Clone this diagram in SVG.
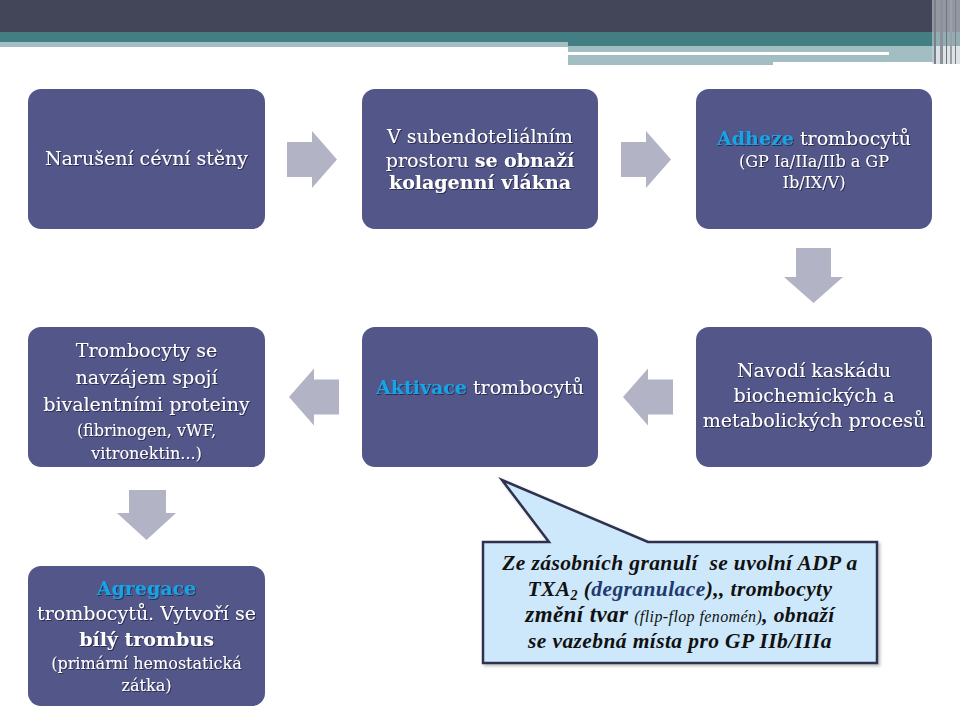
<svg xmlns="http://www.w3.org/2000/svg" width="960" height="720" viewBox="0 0 960 720">
<defs>
<filter id="sh" x="-10%" y="-10%" width="120%" height="130%">
<feDropShadow dx="1" dy="1" stdDeviation="0.4" flood-color="#1b1b33" flood-opacity="0.7"/>
</filter>
<filter id="bsh" x="-5%" y="-5%" width="110%" height="115%">
<feDropShadow dx="2" dy="2" stdDeviation="1.5" flood-color="#000" flood-opacity="0.25"/>
</filter>
</defs>
<style>
.box{fill:#535688;}
.arr{fill:#b3b3c6;}
.t{font-family:"DejaVu Serif","Liberation Serif",serif;font-size:19px;fill:#ffffff;text-anchor:middle;filter:url(#sh);}
.s{font-size:16px;}
.b{font-weight:bold;}
.hl{font-weight:bold;fill:#18a4e6;}
.c{font-family:"Liberation Serif","Times New Roman",serif;font-size:21.5px;font-weight:bold;font-style:italic;fill:#111111;text-anchor:middle;letter-spacing:0.4px;}
</style>
<rect width="960" height="720" fill="#ffffff"/>
<g id="header">
<rect x="0" y="0" width="960" height="32" fill="#434558"/>
<rect x="0" y="32" width="960" height="10" fill="#437e82"/>
<rect x="0" y="42" width="568" height="5" fill="#a3bec3"/>
<rect x="568" y="42" width="392" height="4" fill="#437e82"/>
<rect x="568" y="46" width="367" height="16" fill="#a3bec3"/>
<rect x="568" y="62" width="205" height="3" fill="#a3bec3"/>
<rect x="568" y="52" width="321" height="3" fill="#ffffff"/>
<rect x="932" y="0" width="28" height="64" fill="#c8ced3" opacity="0.6"/>
<rect x="934" y="0" width="2" height="64" fill="#7a7f8c"/>
<rect x="940" y="0" width="3" height="64" fill="#8c919c"/>
<rect x="946" y="0" width="1" height="64" fill="#6e7380"/>
<rect x="950" y="0" width="2" height="64" fill="#9aa0a8"/>
<rect x="955" y="0" width="1" height="64" fill="#7a7f8c"/>
</g>
<g id="connectors">
<polygon class="arr" points="287,142 312,142 312,131 337,159.5 312,188 312,177 287,177"/>
<polygon class="arr" points="621,142 646,142 646,131 671,159.5 646,188 646,177 621,177"/>
<polygon class="arr" points="796,248 831,248 831,277 843,277 813.5,303 784,277 796,277"/>
<polygon class="arr" points="673,379.5 648,379.5 648,368.5 623,397 648,425.5 648,414.5 673,414.5"/>
<polygon class="arr" points="339,379.5 314,379.5 314,368.5 289,397 314,425.5 314,414.5 339,414.5"/>
<polygon class="arr" points="129,490 166,490 166,513 176,513 146.5,540 117,513 129,513"/>
</g>
<g id="n1">
<rect class="box" x="28" y="89" width="237" height="140" rx="13"/>
<text class="t" x="146.5" y="165">Narušení cévní stěny</text>
</g>
<g id="n2">
<rect class="box" x="362" y="89" width="236" height="140" rx="13"/>
<text class="t" x="480" y="143">V subendoteliálním</text>
<text class="t" x="480" y="167">prostoru <tspan class="b">se obnaží</tspan></text>
<text class="t b" x="480" y="189">kolagenní vlákna</text>
</g>
<g id="n3">
<rect class="box" x="696" y="89" width="236" height="140" rx="13"/>
<text class="t" x="814" y="145"><tspan class="hl">Adheze</tspan> trombocytů</text>
<text class="t s" x="814" y="167">(GP Ia/IIa/IIb a GP</text>
<text class="t s" x="814" y="188">Ib/IX/V)</text>
</g>
<g id="n4">
<rect class="box" x="696" y="327" width="236" height="140" rx="13"/>
<text class="t" x="814" y="377">Navodí kaskádu</text>
<text class="t" x="814" y="402">biochemických a</text>
<text class="t" x="814" y="427">metabolických procesů</text>
</g>
<g id="n5">
<rect class="box" x="362" y="327" width="236" height="140" rx="13"/>
<text class="t" x="480" y="394"><tspan class="hl">Aktivace</tspan> trombocytů</text>
</g>
<g id="n6">
<rect class="box" x="28" y="327" width="237" height="140" rx="13"/>
<text class="t" x="146.5" y="357">Trombocyty se</text>
<text class="t" x="146.5" y="384">navzájem spojí</text>
<text class="t" x="146.5" y="411">bivalentními proteiny</text>
<text class="t s" x="146.5" y="436">(fibrinogen, vWF,</text>
<text class="t s" x="146.5" y="459">vitronektin...)</text>
</g>
<g id="n7">
<rect class="box" x="28" y="566" width="237" height="140" rx="13"/>
<text class="t hl" x="146.5" y="595">Agregace</text>
<text class="t" x="146.5" y="620">trombocytů. Vytvoří se</text>
<text class="t b" x="146.5" y="646">bílý trombus</text>
<text class="t s" x="146.5" y="669">(primární hemostatická</text>
<text class="t s" x="146.5" y="691">zátka)</text>
</g>
<g id="callout">
<path d="M483,542 L549,542 L502,480 L648,542 L877,542 L877,663 L483,663 Z" fill="#cde8fa" stroke="#2d3150" stroke-width="2.5" stroke-linejoin="miter" filter="url(#bsh)"/>
<text class="c" x="680" y="570">Ze zásobních granulí &#160;se uvolní ADP a</text>
<text class="c" x="680" y="596">TXA<tspan font-size="14" dy="4">2</tspan><tspan dy="-4"> (</tspan><tspan fill="#1f3a6e">degranulace</tspan>),, trombocyty</text>
<text class="c" x="680" y="622"><tspan font-size="23">změní tvar</tspan> <tspan font-size="16" font-weight="normal">(flip-flop fenomén)</tspan>, obnaží</text>
<text class="c" x="680" y="648">se vazebná místa pro GP IIb/IIIa</text>
</g>
</svg>
